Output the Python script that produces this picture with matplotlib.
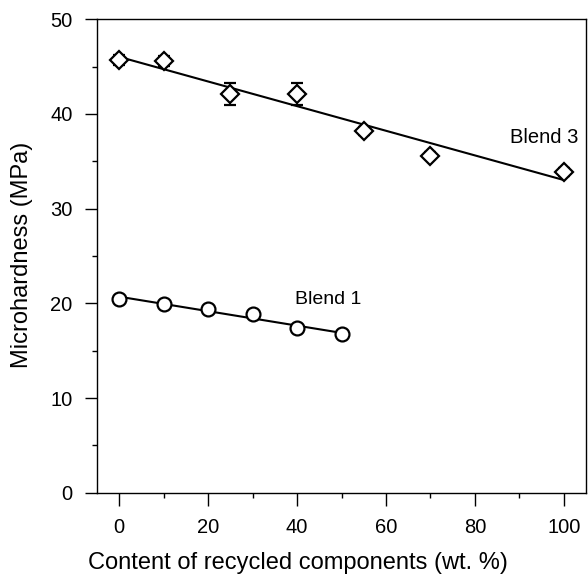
import numpy as np
import matplotlib
matplotlib.use("Agg")
import matplotlib.pyplot as plt
from matplotlib.ticker import MultipleLocator

plt.rcParams['font.family'] = ['Liberation Sans', 'DejaVu Sans']

# Blend 3 (diamonds)
x_b3 = [0, 10, 25, 40, 55, 70, 100]
y_b3 = [45.7, 45.6, 42.1, 42.1, 38.2, 35.6, 33.9]
err_b3 = [0.5, 0.5, 1.2, 1.15, 0.4, 0.4, 0.4]

# Blend 1 (circles)
x_b1 = [0, 10, 20, 30, 40, 50]
y_b1 = [20.45, 19.9, 19.45, 18.85, 17.35, 16.75]

fig = plt.figure(figsize=(5.88, 5.77), dpi=100)
ax = fig.add_axes([97/588, 1 - 492.7/577, (586 - 97)/588, (492.7 - 19.3)/577])

# fit lines
p3 = np.polyfit(x_b3, y_b3, 1)
xf3 = np.array([min(x_b3), max(x_b3)])
ax.plot(xf3, np.polyval(p3, xf3), color='black', lw=1.5, zorder=2)
p1 = np.polyfit(x_b1, y_b1, 1)
xf1 = np.array([min(x_b1), max(x_b1)])
ax.plot(xf1, np.polyval(p1, xf1), color='black', lw=1.5, zorder=2)

ax.errorbar(x_b3, y_b3, yerr=err_b3, fmt='D', ms=9.5, mfc='white', mec='black',
            mew=1.6, ecolor='black', elinewidth=1.2, capsize=4.3, capthick=1.2, zorder=3)
ax.plot(x_b1, y_b1, 'o', ms=10, mfc='white', mec='black', mew=1.6, zorder=3)

ax.text(88, 37.55, 'Blend 3', fontsize=14.5, va='center', ha='left')
ax.text(39.5, 20.4, 'Blend 1', fontsize=14, va='center', ha='left')

ax.set_xlim(-5, 105)
ax.set_ylim(0, 50)
ax.xaxis.set_major_locator(MultipleLocator(20))
ax.xaxis.set_minor_locator(MultipleLocator(10))
ax.yaxis.set_major_locator(MultipleLocator(10))
ax.yaxis.set_minor_locator(MultipleLocator(5))
ax.tick_params(which='major', direction='out', length=9, width=1, labelsize=14.5)
ax.tick_params(axis='x', which='major', pad=9)
ax.tick_params(axis='y', which='major', pad=8.5)
ax.tick_params(which='minor', direction='out', length=3.6, width=1)
ax.tick_params(top=False, right=False)
for s in ax.spines.values():
    s.set_linewidth(1.0)

ax.set_xlabel('Content of recycled components (wt. %)', fontsize=17)
ax.set_ylabel('Microhardness (MPa)', fontsize=17)
ax.xaxis.set_label_coords(298/588, 1 - 563/577, transform=fig.transFigure)
ax.xaxis.label.set_va('center')
ax.yaxis.set_label_coords(22/588, 1 - 255/577, transform=fig.transFigure)
ax.yaxis.label.set_va('center')

fig.savefig('out.png', dpi=100)
